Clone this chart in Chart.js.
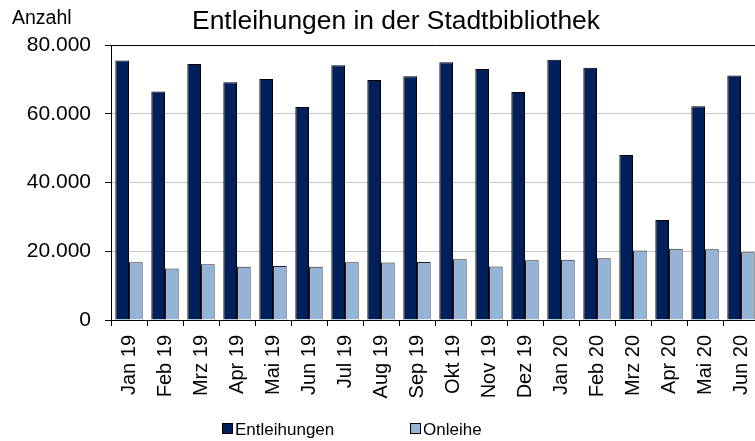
<!DOCTYPE html>
<html>
<head>
<meta charset="utf-8">
<script src="https://cdn.jsdelivr.net/npm/chart.js@4.4.0/dist/chart.umd.min.js"></script>
<style>
  html, body { margin: 0; padding: 0; overflow: hidden; background: #fff; width: 755px; height: 441px; }
  canvas { display: block; }
</style>
</head>
<body>
<canvas id="c" width="794" height="441"></canvas>
<script>
const categories = ["Jan 19","Feb 19","Mrz 19","Apr 19","Mai 19","Jun 19","Jul 19","Aug 19","Sep 19","Okt 19","Nov 19","Dez 19","Jan 20","Feb 20","Mrz 20","Apr 20","Mai 20","Jun 20"];
const entleihungen = [75500,66500,74500,69200,70100,62000,74100,69800,70900,75000,73000,66300,75700,73400,48000,29100,62200,71100];
const onleihe = [16800,15000,16200,15500,15700,15500,16800,16700,16900,17700,15600,17400,17500,18000,20200,20700,20600,19700];
const yTicks = [0,20000,40000,60000,80000];
const titleText = "Entleihungen in der Stadtbibliothek";
const yAxisLabel = "Anzahl";

const FONT = '"Liberation Sans", Arial, sans-serif';
const DARK = '#00205b';
const LIGHT = '#95b3d7';

function fmt(v) {
  return String(v).replace(/\B(?=(\d{3})+(?!\d))/g, '.');
}

const extras = {
  id: 'extras',
  afterDraw(chart) {
    const ctx = chart.ctx;
    ctx.save();
    ctx.fillStyle = '#000';
    ctx.textBaseline = 'alphabetic';
    // title
    ctx.textAlign = 'center';
    ctx.font = '26.4px ' + FONT;
    ctx.fillText(titleText, 396, 29);
    ctx.textAlign = 'left';
    ctx.font = '19.5px ' + FONT;
    ctx.fillText(yAxisLabel, 12, 24);
    // legend
    ctx.font = '17px ' + FONT;
    const items = chart.data.datasets.map(d => ({label: d.label, color: d.backgroundColor}));
    const xs = [222, 410];
    items.forEach((it, i) => {
      const x = xs[i];
      ctx.fillStyle = it.color;
      ctx.fillRect(x, 423, 11, 11);
      ctx.strokeStyle = '#000';
      ctx.lineWidth = 1;
      ctx.strokeRect(x + 0.5, 423.5, 10, 10);
      ctx.fillStyle = '#000';
      ctx.fillText(it.label, x + 13, 435);
    });
    ctx.restore();
  }
};

new Chart(document.getElementById('c'), {
  type: 'bar',
  data: {
    labels: categories,
    datasets: [
      { label: 'Entleihungen', data: entleihungen, backgroundColor: DARK, borderColor: '#000', borderWidth: 1 },
      { label: 'Onleihe', data: onleihe, backgroundColor: LIGHT, borderColor: '#222', borderWidth: 1 }
    ]
  },
  options: {
    responsive: false,
    devicePixelRatio: 1,
    animation: false,
    layout: { padding: { left: 0, right: 35, top: 45, bottom: 0 } },
    datasets: { bar: { categoryPercentage: 0.76, barPercentage: 1.0 } },
    plugins: {
      legend: { display: false },
      tooltip: { enabled: false },
      title: { display: false }
    },
    scales: {
      x: {
        afterFit(s) { s.height = 121; },
        grid: { display: true, drawOnChartArea: false, drawTicks: true, tickLength: 6, tickColor: '#000', offset: true },
        border: { display: true, color: '#000', width: 1 },
        ticks: {
          autoSkip: false, minRotation: 90, maxRotation: 90, padding: 9,
          color: '#000', font: { family: FONT, size: 20 }
        }
      },
      y: {
        min: 0, max: 80000,
        afterFit(s) { s.width = 111; },
        afterBuildTicks(s) { s.ticks = yTicks.map(v => ({ value: v })); },
        grid: {
          color: c => (c.tick && c.tick.value === 80000) ? '#000' : '#c8c8c8',
          tickLength: 6, tickColor: '#000', lineWidth: 1
        },
        border: { display: true, color: '#000', width: 1 },
        ticks: {
          padding: 14, color: '#000', font: { family: FONT, size: 21 },
          callback: v => fmt(v)
        }
      }
    }
  },
  plugins: [extras]
});
</script>
</body>
</html>
